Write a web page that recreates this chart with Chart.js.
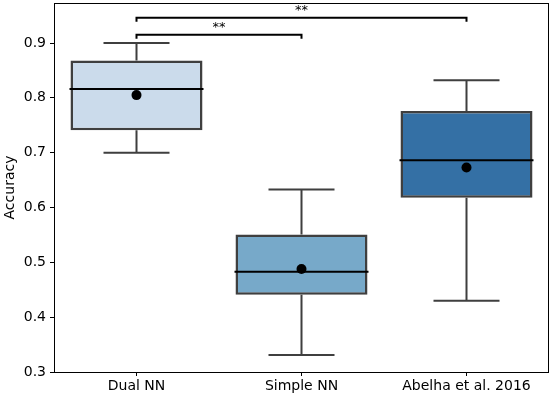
<!DOCTYPE html>
<html>
<head>
<meta charset="utf-8">
<script src="https://cdn.jsdelivr.net/npm/chart.js@4"></script>
<style>
  html, body { margin: 0; padding: 0; background: #fff; }
  #wrap { width: 552px; height: 397px; }
</style>
</head>
<body>
<div id="wrap"><canvas id="chart"></canvas></div>
<script>
// data
const categories = ['Dual NN', 'Simple NN', 'Abelha et al. 2016'];
const whiskLow = [0.700, 0.331, 0.430];
const q1 = [0.741, 0.441, 0.618];
const median = [0.816, 0.483, 0.686];
const q3 = [0.868, 0.551, 0.776];
const whiskHigh = [0.900, 0.633, 0.832];
const means = [0.805, 0.488, 0.673];
const boxColors = ['#cbdbeb', '#77a9c9', '#3470a5'];
const yTicks = [0.3, 0.4, 0.5, 0.6, 0.7, 0.8, 0.9];
// significance brackets: from, to, height, label
const sigFrom = [0, 0];
const sigTo = [1, 2];
const sigY = [0.915, 0.946];
const sigLabel = ['**', '**'];

const edge = '#3f3f3f';
const font = 'DejaVu Sans';

// whiskers, medians, brackets, frame
const boxExtras = {
  id: 'boxExtras',
  afterDatasetsDraw(chart) {
    const ctx = chart.ctx;
    const xs = chart.scales.x, ys = chart.scales.y;
    const meta = chart.getDatasetMeta(0);
    ctx.save();
    for (let i = 0; i < categories.length; i++) {
      const bar = meta.data[i];
      const cx = xs.getPixelForValue(i);
      const half = bar.width / 2;
      const cap = half / 2;
      ctx.strokeStyle = edge;
      ctx.lineWidth = 2;
      ctx.beginPath();
      ctx.moveTo(cx, ys.getPixelForValue(q3[i]));
      ctx.lineTo(cx, ys.getPixelForValue(whiskHigh[i]));
      ctx.moveTo(cx, ys.getPixelForValue(q1[i]));
      ctx.lineTo(cx, ys.getPixelForValue(whiskLow[i]));
      ctx.moveTo(cx - cap, ys.getPixelForValue(whiskHigh[i]));
      ctx.lineTo(cx + cap, ys.getPixelForValue(whiskHigh[i]));
      ctx.moveTo(cx - cap, ys.getPixelForValue(whiskLow[i]));
      ctx.lineTo(cx + cap, ys.getPixelForValue(whiskLow[i]));
      ctx.stroke();
      ctx.strokeStyle = '#000';
      ctx.beginPath();
      ctx.moveTo(cx - half - 1, ys.getPixelForValue(median[i]));
      ctx.lineTo(cx + half + 1, ys.getPixelForValue(median[i]));
      ctx.stroke();
    }
    // brackets
    ctx.strokeStyle = '#000';
    ctx.lineWidth = 2;
    ctx.fillStyle = '#000';
    ctx.font = '13px ' + font;
    ctx.textAlign = 'center';
    ctx.textBaseline = 'bottom';
    for (let k = 0; k < sigY.length; k++) {
      const x1 = xs.getPixelForValue(sigFrom[k]);
      const x2 = xs.getPixelForValue(sigTo[k]);
      const y = ys.getPixelForValue(sigY[k]);
      ctx.beginPath();
      ctx.moveTo(x1, y + 4);
      ctx.lineTo(x1, y);
      ctx.lineTo(x2, y);
      ctx.lineTo(x2, y + 4);
      ctx.stroke();
      ctx.fillText(sigLabel[k], (x1 + x2) / 2, y - 1);
    }
    // frame
    const a = chart.chartArea;
    ctx.strokeStyle = '#000';
    ctx.lineWidth = 1;
    ctx.strokeRect(a.left + 0.5, a.top + 0.5, a.right - a.left - 1, a.bottom - a.top);
    ctx.restore();
  }
};

new Chart(document.getElementById('chart'), {
  type: 'bar',
  data: {
    labels: categories,
    datasets: [{
      type: 'bar',
      data: categories.map((c, i) => [q1[i], q3[i]]),
      backgroundColor: boxColors,
      borderColor: edge,
      borderWidth: 2.5,
      borderSkipped: false,
      barPercentage: 0.8,
      categoryPercentage: 1,
      order: 2
    }, {
      type: 'line',
      data: means,
      showLine: false,
      pointRadius: 5,
      pointBackgroundColor: '#000',
      pointBorderWidth: 0,
      order: 1
    }]
  },
  options: {
    responsive: true,
    maintainAspectRatio: false,
    animation: false,
    layout: { autoPadding: false, padding: { top: 3, right: 3, left: 0, bottom: 0 } },
    plugins: { legend: { display: false }, tooltip: { enabled: false } },
    scales: {
      x: {
        grid: { offset: false, drawOnChartArea: false, drawTicks: true, tickLength: 4, color: '#000' },
        border: { display: false },
        ticks: { color: '#000', font: { family: font, size: 14 }, padding: 2 },
        afterFit(s) { s.height = 25; s.paddingLeft = 0; s.paddingRight = 0; }
      },
      y: {
        min: 0.3,
        max: 0.973,
        grid: { drawOnChartArea: false, drawTicks: true, tickLength: 4, color: '#000' },
        border: { display: false },
        afterBuildTicks(s) { s.ticks = yTicks.map(v => ({ value: v })); },
        ticks: {
          color: '#000', font: { family: font, size: 14 }, padding: 4,
          callback: v => v.toFixed(1)
        },
        title: { display: true, text: 'Accuracy', color: '#000', font: { family: font, size: 14 }, padding: 2 },
        afterFit(s) { s.width = 54; s.paddingTop = 0; s.paddingBottom = 0; }
      }
    }
  },
  plugins: [boxExtras]
});
</script>
</body>
</html>
